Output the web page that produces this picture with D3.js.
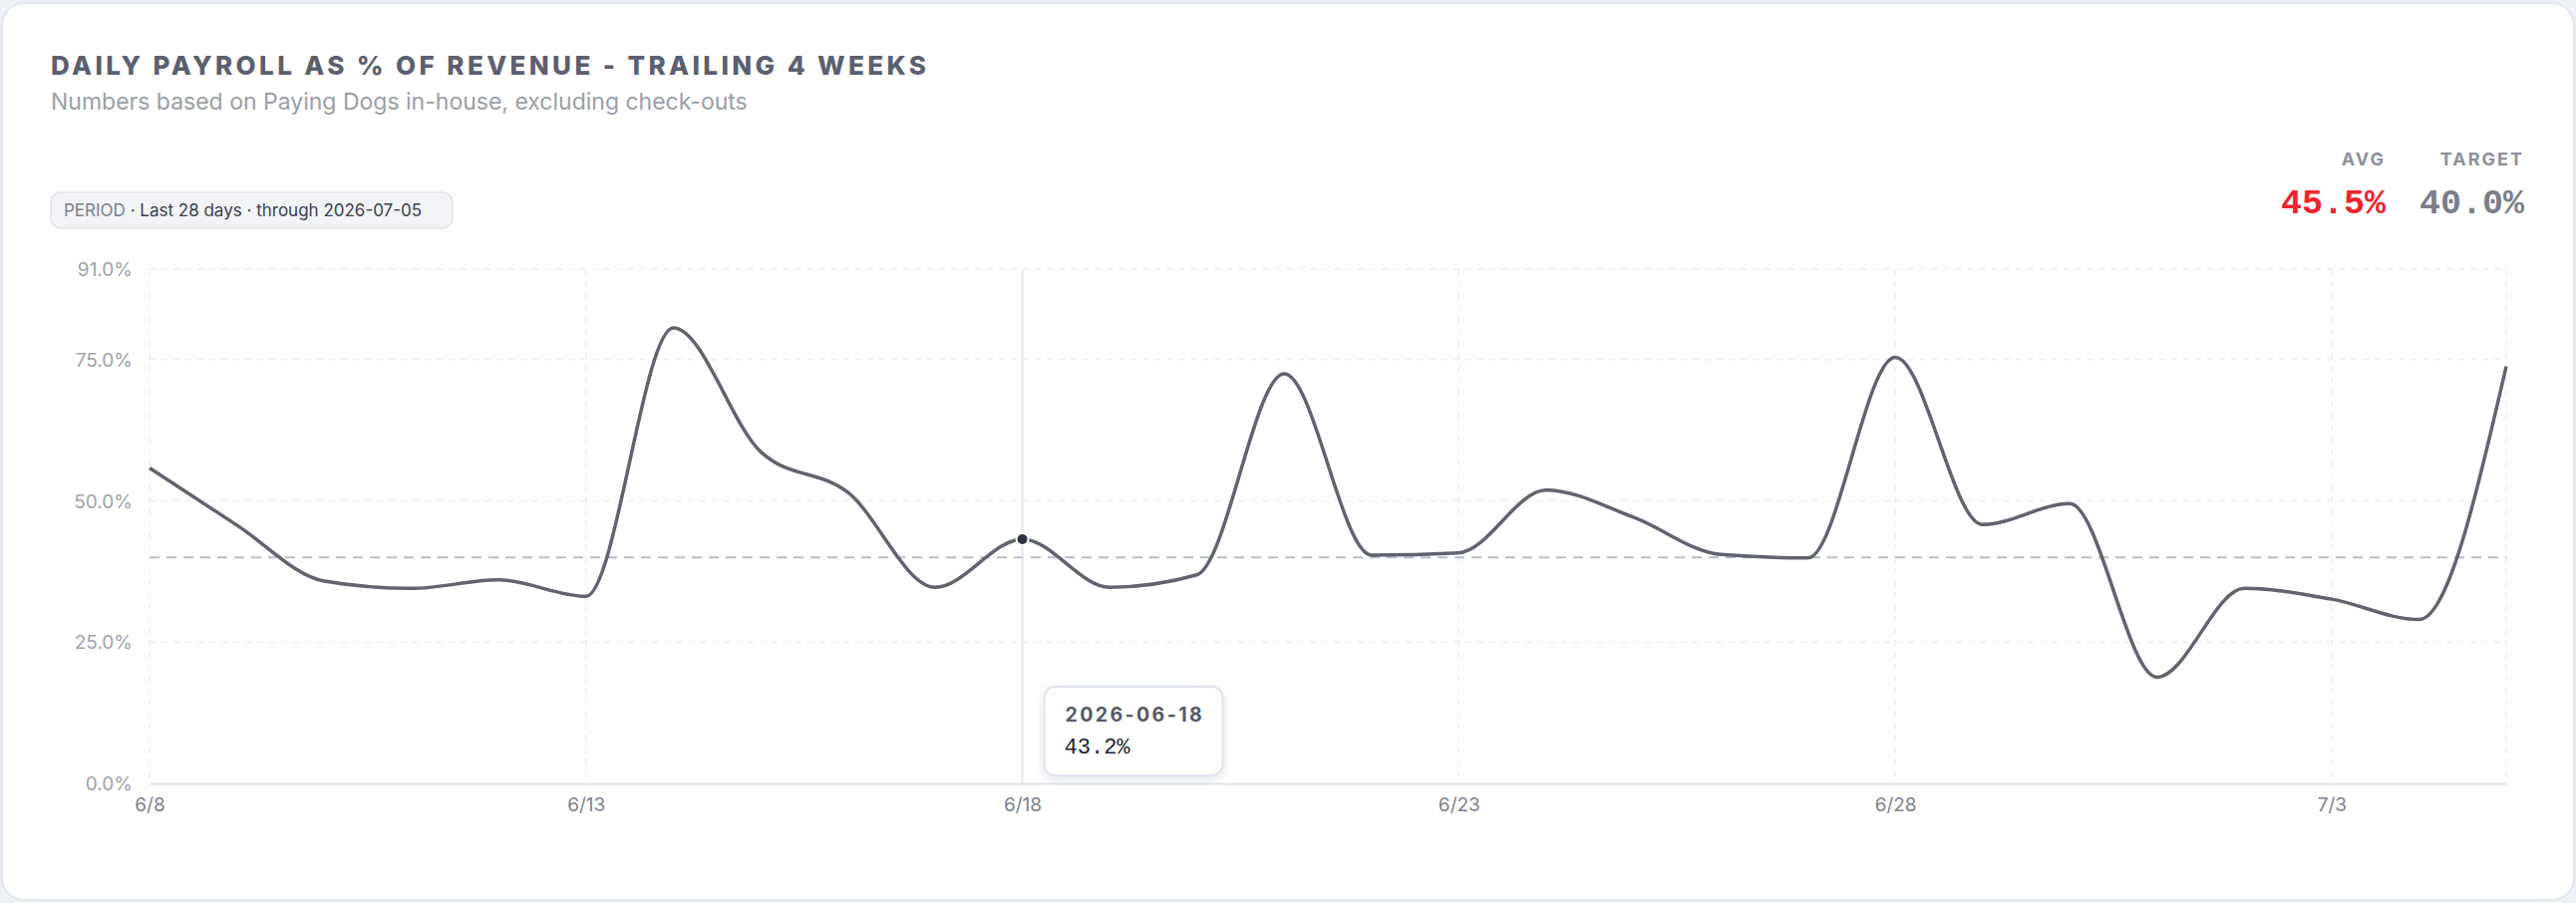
<!DOCTYPE html>
<html>
<head>
<meta charset="utf-8">
<script src="https://cdn.jsdelivr.net/npm/d3@7"></script>
<style>
  html, body { margin: 0; padding: 0; background: #eef1f6; }
  svg { display: block; }
</style>
</head>
<body>
<div id="chart"></div>
<script>
// chart data
const dates = [
  "2026-06-08", "2026-06-09", "2026-06-10", "2026-06-11", "2026-06-12", "2026-06-13", "2026-06-14",
  "2026-06-15", "2026-06-16", "2026-06-17", "2026-06-18", "2026-06-19", "2026-06-20", "2026-06-21",
  "2026-06-22", "2026-06-23", "2026-06-24", "2026-06-25", "2026-06-26", "2026-06-27", "2026-06-28",
  "2026-06-29", "2026-06-30", "2026-07-01", "2026-07-02", "2026-07-03", "2026-07-04", "2026-07-05"
];
const payrollPct = [
  55.8, 45.7, 35.8, 34.5, 36.0, 33.1, 80.6,
  58.7, 51.5, 34.7, 43.2, 34.7, 36.9, 72.5,
  40.4, 40.8, 51.9, 47.1, 40.5, 39.9, 75.4,
  45.8, 49.5, 18.8, 34.5, 32.6, 29.0, 73.8
];
const yTicks = [0, 25, 50, 75, 91];
const xTickDates = ["2026-06-08", "2026-06-13", "2026-06-18", "2026-06-23", "2026-06-28", "2026-07-03"];
const targetPct = 40.0;
const avgPct = 45.5;
const hoverDate = "2026-06-18";

const titleText = "DAILY PAYROLL AS % OF REVENUE - TRAILING 4 WEEKS";
const subtitleText = "Numbers based on Paying Dogs in-house, excluding check-outs";

// page size and plot box
const width = 2584;
const height = 906;
const margin = {left: 150, right: 70, top: 270, bottom: 120};

const sans = "Inter, 'Noto Sans', sans-serif";
const mono = "'Liberation Mono', 'DejaVu Sans Mono', monospace";

const parse = d3.timeParse("%Y-%m-%d");
const data = dates.map((d, i) => ({date: parse(d), value: payrollPct[i]}));

const svg = d3.select("#chart")
  .append("svg")
  .attr("width", width)
  .attr("height", height);

const defs = svg.append("defs");
const shadow = defs.append("filter").attr("id", "tipShadow")
  .attr("x", "-20%").attr("y", "-20%").attr("width", "140%").attr("height", "150%");
shadow.append("feDropShadow")
  .attr("dx", 0).attr("dy", 3).attr("stdDeviation", 4)
  .attr("flood-color", "#1e2640").attr("flood-opacity", 0.12);

// card
svg.append("rect")
  .attr("x", 2).attr("y", 3)
  .attr("width", width - 4).attr("height", height - 6)
  .attr("rx", 22)
  .attr("fill", "#ffffff")
  .attr("stroke", "#e2e6ee")
  .attr("stroke-width", 2);

// header
svg.append("text")
  .attr("x", 51).attr("y", 75)
  .attr("font-family", sans).attr("font-size", 26).attr("font-weight", 800)
  .attr("letter-spacing", 3.4)
  .attr("fill", "#5b6070")
  .text(titleText);

svg.append("text")
  .attr("x", 51).attr("y", 110)
  .attr("font-family", sans).attr("font-size", 23)
  .attr("fill", "#9a9ea9")
  .text(subtitleText);

// period pill
const pill = svg.append("g");
pill.append("rect")
  .attr("x", 51).attr("y", 193)
  .attr("width", 403).attr("height", 36)
  .attr("rx", 10)
  .attr("fill", "#f3f4f7")
  .attr("stroke", "#dfe3ea")
  .attr("stroke-width", 1.5);
const pillText = pill.append("text")
  .attr("x", 64).attr("y", 217)
  .attr("font-family", sans).attr("font-size", 17);
pillText.append("tspan").attr("fill", "#7c808c").text("PERIOD");
pillText.append("tspan").attr("fill", "#3b4050").text(" · Last 28 days · through 2026-07-05");

// avg / target stats
const stats = [
  {label: "AVG", value: avgPct, x: 2393, color: "#f0232f"},
  {label: "TARGET", value: targetPct, x: 2532, color: "#7a7e8a"}
];
const statG = svg.append("g").selectAll("g").data(stats).join("g");
statG.append("text")
  .attr("x", d => d.x).attr("y", 166)
  .attr("text-anchor", "end")
  .attr("font-family", sans).attr("font-size", 18).attr("font-weight", 700)
  .attr("letter-spacing", 2)
  .attr("fill", "#8d919c")
  .text(d => d.label);
statG.append("text")
  .attr("x", d => d.x).attr("y", 214)
  .attr("text-anchor", "end")
  .attr("font-family", mono).attr("font-size", 35).attr("font-weight", 700)
  .attr("fill", d => d.color)
  .text(d => d.value.toFixed(1) + "%");

// scales
const xScale = d3.scaleTime()
  .domain(d3.extent(data, d => d.date))
  .range([margin.left, width - margin.right]);

const yScale = d3.scaleLinear()
  .domain([0, d3.max(yTicks)])
  .range([height - margin.bottom, margin.top]);

const x0 = margin.left, x1 = width - margin.right;
const y0 = height - margin.bottom, y1 = margin.top;

// grid
const grid = svg.append("g");
grid.selectAll(".hgrid")
  .data(yTicks.filter(t => t > 0))
  .join("line")
  .attr("x1", x0).attr("x2", x1)
  .attr("y1", d => yScale(d)).attr("y2", d => yScale(d))
  .attr("stroke", "#eceff4").attr("stroke-width", 1.5)
  .attr("stroke-dasharray", "6,6");

const vGridDates = xTickDates.concat([dates[dates.length - 1]]);
grid.selectAll(".vgrid")
  .data(vGridDates)
  .join("line")
  .attr("x1", d => xScale(parse(d))).attr("x2", d => xScale(parse(d)))
  .attr("y1", y1).attr("y2", y0)
  .attr("stroke", "#eceff4").attr("stroke-width", 1.5)
  .attr("stroke-dasharray", "6,6");

// y axis labels
const yAxis = svg.append("g")
  .attr("transform", `translate(${x0 - 17}, 0)`)
  .call(d3.axisLeft(yScale).tickValues(yTicks).tickSize(0).tickPadding(0)
    .tickFormat(d => d.toFixed(1) + "%"));
yAxis.select(".domain").remove();
yAxis.selectAll("text")
  .attr("font-family", sans).attr("font-size", 19)
  .attr("fill", "#9ea2ad")
  .attr("dy", "0.35em");

// x axis
const xAxis = svg.append("g")
  .attr("transform", `translate(0, ${y0})`)
  .call(d3.axisBottom(xScale)
    .tickValues(xTickDates.map(parse))
    .tickSize(0).tickPadding(15)
    .tickFormat(d3.timeFormat("%-m/%-d")));
xAxis.select(".domain")
  .attr("stroke", "#dfe4ee").attr("stroke-width", 2);
xAxis.selectAll("text")
  .attr("font-family", sans).attr("font-size", 19)
  .attr("fill", "#7d818d");

// target line
svg.append("line")
  .attr("x1", x0).attr("x2", x1)
  .attr("y1", yScale(targetPct)).attr("y2", yScale(targetPct))
  .attr("stroke", "#b5bdcc").attr("stroke-width", 2)
  .attr("stroke-dasharray", "10,7");

// hover crosshair
const hover = data[dates.indexOf(hoverDate)];
svg.append("line")
  .attr("x1", xScale(hover.date)).attr("x2", xScale(hover.date))
  .attr("y1", y1).attr("y2", y0)
  .attr("stroke", "#dde1e8").attr("stroke-width", 1.5);

// the series
const line = d3.line()
  .x(d => xScale(d.date))
  .y(d => yScale(d.value))
  .curve(d3.curveMonotoneX);

svg.append("path")
  .datum(data)
  .attr("fill", "none")
  .attr("stroke", "#61646f")
  .attr("stroke-width", 3.5)
  .attr("stroke-linejoin", "round")
  .attr("d", line);

svg.append("circle")
  .attr("cx", xScale(hover.date)).attr("cy", yScale(hover.value))
  .attr("r", 6)
  .attr("fill", "#2e3243")
  .attr("stroke", "#ffffff").attr("stroke-width", 2);

// tooltip
const tip = svg.append("g")
  .attr("transform", `translate(${xScale(hover.date) + 22}, ${y0 - 97})`);
tip.append("rect")
  .attr("width", 179).attr("height", 89)
  .attr("rx", 11)
  .attr("fill", "#ffffff")
  .attr("stroke", "#dfe4ee").attr("stroke-width", 2)
  .attr("filter", "url(#tipShadow)");
tip.append("text")
  .attr("x", 21).attr("y", 35)
  .attr("font-family", sans).attr("font-size", 19.5).attr("font-weight", 700)
  .attr("letter-spacing", 2.4)
  .attr("fill", "#555a68")
  .text(hoverDate);
tip.append("text")
  .attr("x", 20).attr("y", 67)
  .attr("font-family", mono).attr("font-size", 22)
  .attr("fill", "#1a1f33")
  .text(hover.value.toFixed(1) + "%");
</script>
</body>
</html>
